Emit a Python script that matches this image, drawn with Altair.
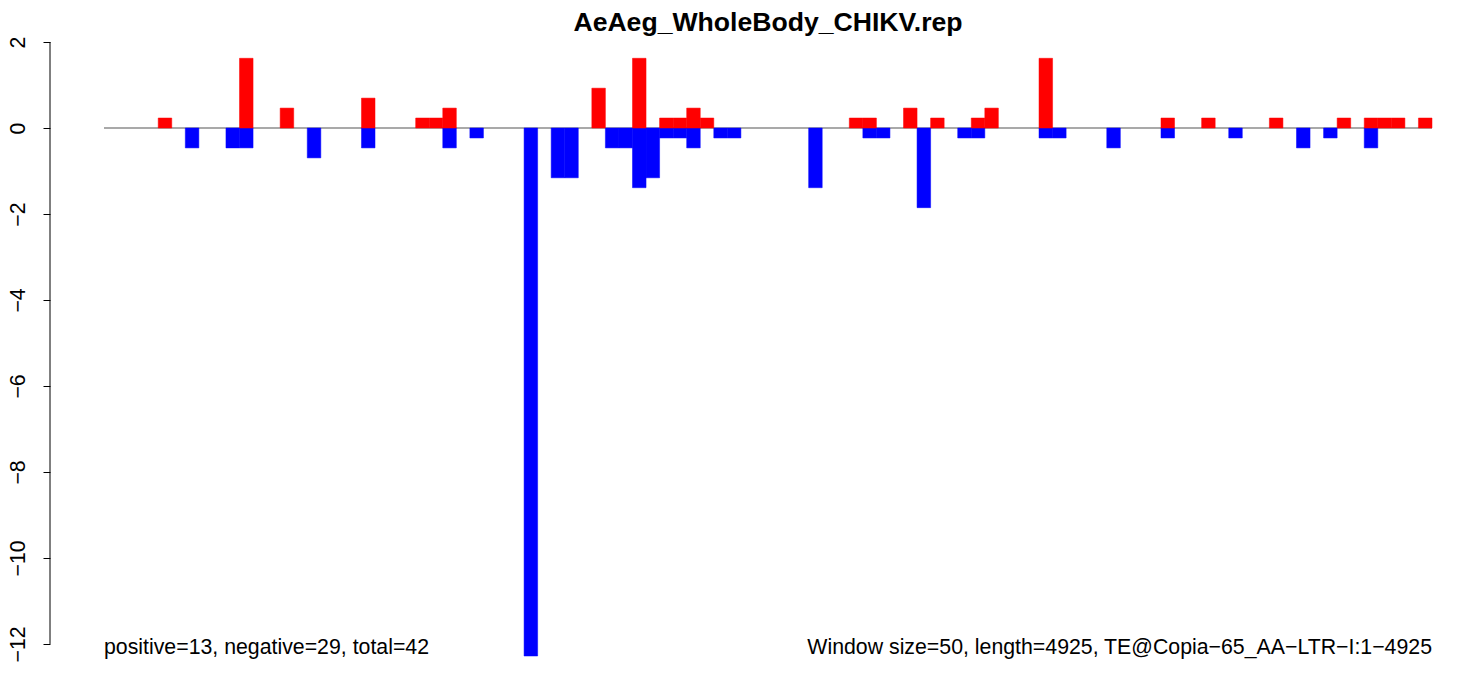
import altair as alt
import pandas as pd

# window index (50 bp windows) and values
red_win = [4, 10, 13, 19, 23, 24, 25, 36, 39, 41, 42, 43, 44, 55, 56, 59, 61, 64, 65, 69, 78, 81, 86, 91, 93, 94, 95, 97]
red_val = [0.232, 1.621, 0.463, 0.695, 0.232, 0.232, 0.463, 0.926, 1.621, 0.232, 0.232, 0.463, 0.232, 0.232, 0.232,
           0.463, 0.232, 0.232, 0.463, 1.621, 0.232, 0.232, 0.232, 0.232, 0.232, 0.232, 0.232, 0.232]

blue_win = [6, 9, 10, 15, 19, 25, 27, 31, 33, 34, 37, 38, 39, 40, 41, 42, 43, 45, 46, 52, 56, 57, 60, 63, 64,
            69, 70, 74, 78, 83, 88, 90, 93]
blue_val = [-0.463, -0.463, -0.463, -0.695, -0.463, -0.463, -0.232, -12.28, -1.158, -1.158, -0.463, -0.463, -1.389,
            -1.158, -0.232, -0.232, -0.463, -0.232, -0.232, -1.389, -0.232, -0.232, -1.853, -0.232, -0.232,
            -0.232, -0.232, -0.463, -0.232, -0.232, -0.463, -0.232, -0.463]

n_windows = 98
y_ticks = [2, 0, -2, -4, -6, -8, -10, -12]
y_min, y_max = -12.28, 2.0
title_text = "AeAeg_WholeBody_CHIKV.rep"
left_note = "positive=13, negative=29, total=42"
right_note = "Window size=50, length=4925, TE@Copia\u221265_AA\u2212LTR\u2212I:1\u22124925"

W, H = 1328, 614
FONT = "Liberation Sans"

red_df = pd.DataFrame({"win": red_win, "val": red_val})
blue_df = pd.DataFrame({"win": blue_win, "val": blue_val})

xscale = alt.Scale(domain=[0, n_windows], nice=False, zero=False)
yscale = alt.Scale(domain=[y_min, y_max], nice=False, zero=False)

yaxis = alt.Axis(values=y_ticks, grid=False, offset=54, tickSize=7, tickColor="black", domain=False,
                 tickWidth=1, labelAngle=270, labelFont=FONT, labelFontSize=21.3,
                 labelColor="black", labelPadding=15, title=None, labelExpr="replace(datum.label, '-', '\u2212')")

base_line = alt.Chart(pd.DataFrame({"a": [0]})).mark_rule(color="#A9A9A9", strokeWidth=2).encode(
    x=alt.X("x0:Q", scale=xscale, axis=None),
    x2="x1:Q",
    y=alt.Y("y0:Q", scale=yscale, axis=yaxis),
).transform_calculate(x0="0", x1=str(n_windows), y0="0")

axis_line = alt.Chart(pd.DataFrame({"a": [0]})).mark_rule(color="black", strokeWidth=1).encode(
    x=alt.value(-54),
    y=alt.Y("top:Q", scale=yscale),
    y2="bot:Q",
).transform_calculate(top=str(max(y_ticks)), bot=str(min(y_ticks)))

def bars(df, color):
    return alt.Chart(df).mark_rect(color=color, stroke=color, strokeWidth=0.5).encode(
        x=alt.X("win:Q", scale=xscale, axis=None),
        x2="win_end:Q",
        y=alt.Y("val:Q", scale=yscale),
        y2="zero:Q",
    ).transform_calculate(win_end="datum.win + 1", zero="0")

blue = bars(blue_df, "#0000FF")
red = bars(red_df, "#FF0000")

title = alt.Chart(pd.DataFrame({"t": [title_text]})).mark_text(
    font=FONT, fontSize=26.6, fontWeight="bold", align="center", baseline="middle", color="black"
).encode(text="t:N", x=alt.value(W / 2), y=alt.value(-19))

lnote = alt.Chart(pd.DataFrame({"t": [left_note]})).mark_text(
    font=FONT, fontSize=21.3, align="left", baseline="middle", color="black"
).encode(text="t:N", x=alt.value(0), y=alt.value(606))

rnote = alt.Chart(pd.DataFrame({"t": [right_note]})).mark_text(
    font=FONT, fontSize=21.3, align="right", baseline="middle", color="black"
).encode(text="t:N", x=alt.value(W), y=alt.value(606))

chart = alt.layer(base_line, axis_line, blue, red, title, lnote, rnote).properties(
    width=W, height=H,
    background="white",
    autosize=alt.AutoSizeParams(type="none"),
    padding={"left": 96, "top": 34, "right": 20, "bottom": 20},
).configure_view(strokeWidth=0, stroke=None)

chart.save("out.html", embed_options={"renderer": "svg", "actions": False})
